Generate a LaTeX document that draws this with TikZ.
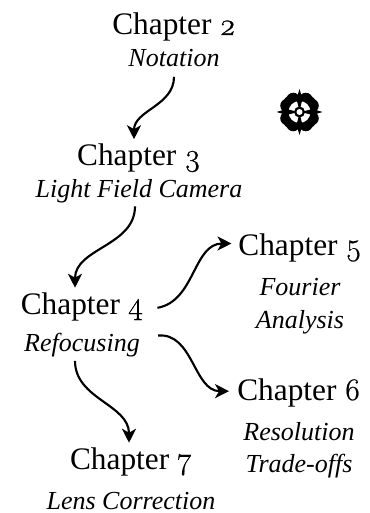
\documentclass[tikz,border=0pt]{standalone}
\usepackage{fontspec}
\setmainfont{Liberation Serif}
\newfontfamily\oldnums[Numbers=OldStyle,FakeBold=0.6]{Latin Modern Roman}
\usetikzlibrary{arrows.meta,positioning}

\begin{document}
\begin{tikzpicture}[
    x=0.75pt, y=0.75pt,
    chapter/.style={inner sep=0pt, text height=16.5pt, text depth=5.25pt, font=\fontsize{23.5}{26}\selectfont},
    topic/.style={inner sep=0pt, text height=14.25pt, text depth=3.75pt, font=\fontsize{19.5}{22}\selectfont\itshape},
    link/.style={-{Stealth[length=10.5pt,width=10.5pt,inset=3pt]}, line width=1.6pt}
]
\useasboundingbox (0,0) rectangle (370,-513);

% Chapters
\node[chapter] (ch2) at (174,-27.5) {Chapter {\oldnums 2}};
\node[topic, below=3.75pt of ch2] (ch2t) {Notation};

\node[chapter] (ch3) at (139,-158) {Chapter {\oldnums 3}};
\node[topic, below=3.75pt of ch3] (ch3t) {Light Field Camera};

\node[chapter] (ch4) at (82,-306.5) {Chapter {\oldnums 4}};
\node[topic, below=8.25pt of ch4] (ch4t) {Refocusing};

\node[chapter] (ch5) at (300,-247.5) {Chapter {\oldnums 5}};
\node[topic, below=10.5pt of ch5] (ch5t) {Fourier};
\node[topic, below=6pt of ch5t] (ch5u) {Analysis};

\node[chapter] (ch6) at (299,-392.5) {Chapter {\oldnums 6}};
\node[topic, below=10.5pt of ch6] (ch6t) {Resolution};
\node[topic, below=5.25pt of ch6t] (ch6u) {Trade-offs};

\node[chapter] (ch7) at (131,-461.5) {Chapter {\oldnums 7}};
\node[topic, below=10.25pt of ch7] (ch7t) {Lens Correction};

% Links
\draw[link] (ch2t.south) ++(0,-5) to[out=-90,in=90] ([xshift=-3.75pt,yshift=3pt]ch3.north);
\draw[link] (ch3t.south) ++(-4,-4) to[out=-90,in=90] ([xshift=-5.25pt,yshift=3pt]ch4.north);
\draw[link] ([xshift=10.5pt,yshift=-1pt]ch4.east) to[out=10,in=180] ([xshift=-5pt,yshift=3pt]ch5.west);
\draw[link] ([xshift=13.5pt,yshift=6.75pt]ch4t.east) to[out=5,in=180] ([xshift=-6pt,yshift=1pt]ch6.west);
\draw[link] ([xshift=-5.25pt,yshift=-3pt]ch4t.south) to[out=-90,in=90] ([xshift=-1.5pt,yshift=3pt]ch7.north);

% Ornament
\begin{scope}[shift={(299.5,-112)}]
  \foreach \a in {45,135,225,315} {
    \fill (\a-18:14) circle (6.8);
    \fill (\a+18:14) circle (6.8);
    \fill (\a:13) circle (7);
  }
  \fill[white] (0,0) circle (11);
  \foreach \a in {0,90,180,270} {
    \fill[rotate=\a] (23,0) -- (13,3) -- (4,0.7) -- (4,-0.7) -- (13,-3) -- cycle;
  }
  \fill (0,0) circle (5.5);
  \fill[white] (0,0) circle (3);
\end{scope}
\end{tikzpicture}
\end{document}
